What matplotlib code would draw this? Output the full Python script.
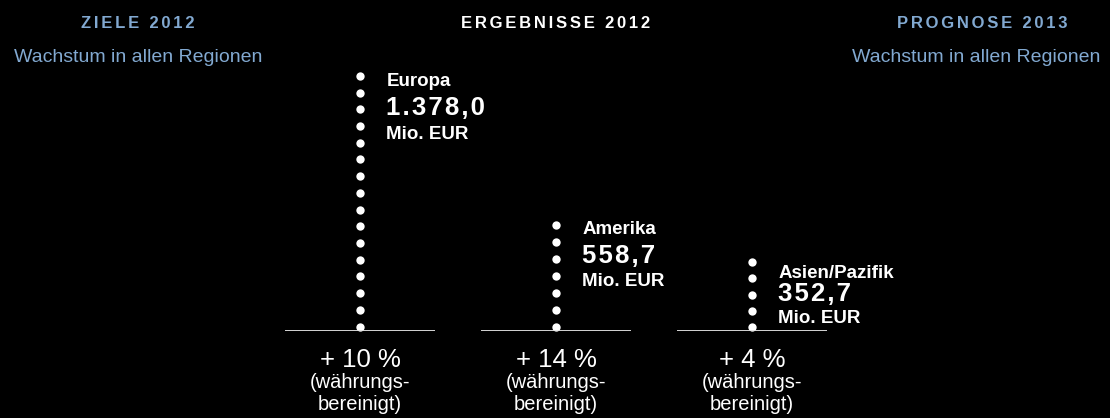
import numpy as np
import matplotlib
matplotlib.use("Agg")
import matplotlib.pyplot as plt
from matplotlib.transforms import blended_transform_factory

plt.rcParams['font.family'] = ['Liberation Sans', 'DejaVu Sans']

# data
regions = ["Europa", "Amerika", "Asien/Pazifik"]
values = [1378.0, 558.7, 352.7]
dot_counts = [16, 7, 5]
growth = [10, 14, 4]
unit = "Mio. EUR"
note_lines = ["(währungs-", "bereinigt)"]
headers = ["ZIELE 2012", "ERGEBNISSE 2012", "PROGNOSE 2013"]
subtitle = "Wachstum in allen Regionen"

BLUE = "#82a9d1"
W, H = 1110, 418


def de_num(v):
    s = "{:,.1f}".format(v)
    return s.replace(",", "X").replace(".", ",").replace("X", ".")


def spaced(s, sep="\u200a"):
    return sep.join(s)


fig = plt.figure(figsize=(W / 100, H / 100), dpi=100, facecolor="black")
ax = fig.add_axes([262 / W, 87 / H, 588 / W, 331 / H])
ax.set_facecolor("black")
ax.set_xlim(-0.5, 2.5)
ax.set_ylim(-24, 1795)
ax.axis("off")

xs = np.arange(len(regions))
# label drop from top dot (points) for each column
name_drop = [4, 3, 8]
gap1 = [19, 19, 14.5]
gap2 = [19, 19, 18]

for i, (x, v, n) in enumerate(zip(xs, values, dot_counts)):
    ys = np.linspace(0, v, n)
    ax.plot(np.full(n, x), ys, "o", color="white", markersize=6, markeredgewidth=0)
    ax.plot([x - 0.383, x + 0.383], [-24, -24], color="#e6e6e6", lw=1.3,
            solid_capstyle="butt")
    y0 = -name_drop[i]
    ax.annotate(regions[i], (x, v), xytext=(19, y0), textcoords="offset points",
                color="white", fontsize=13.5, fontweight="bold", va="center", ha="left")
    ax.annotate(spaced(de_num(v)), (x, v), xytext=(19, y0 - gap1[i]), textcoords="offset points",
                color="white", fontsize=18.5, fontweight="bold", va="center", ha="left")
    ax.annotate(unit, (x, v), xytext=(19, y0 - gap1[i] - gap2[i]), textcoords="offset points",
                color="white", fontsize=13.5, fontweight="bold", va="center", ha="left")

tr = blended_transform_factory(ax.transData, fig.transFigure)
for x, g in zip(xs, growth):
    ax.text(x, 1 - 360 / H, "+ {} %".format(g), transform=tr, color="white",
            fontsize=18.5, ha="center", va="center")
    ax.text(x, 1 - 382 / H, note_lines[0], transform=tr, color="white",
            fontsize=14.5, ha="center", va="center")
    ax.text(x, 1 - 405 / H, note_lines[1], transform=tr, color="white",
            fontsize=14.5, ha="center", va="center")

hsep = "\u2006"
fig.text(138 / W, 1 - 23 / H, spaced(headers[0], hsep), color=BLUE, fontsize=12,
         fontweight="bold", ha="center", va="center")
fig.text(556 / W, 1 - 23 / H, spaced(headers[1], hsep), color="white", fontsize=12,
         fontweight="bold", ha="center", va="center")
fig.text(982 / W, 1 - 23 / H, spaced(headers[2], hsep), color=BLUE, fontsize=12,
         fontweight="bold", ha="center", va="center")
fig.text(138 / W, 1 - 58 / H, subtitle, color=BLUE, fontsize=14, ha="center", va="center")
fig.text(976 / W, 1 - 58 / H, subtitle, color=BLUE, fontsize=14, ha="center", va="center")

fig.savefig("out.png", dpi=100, facecolor="black")
